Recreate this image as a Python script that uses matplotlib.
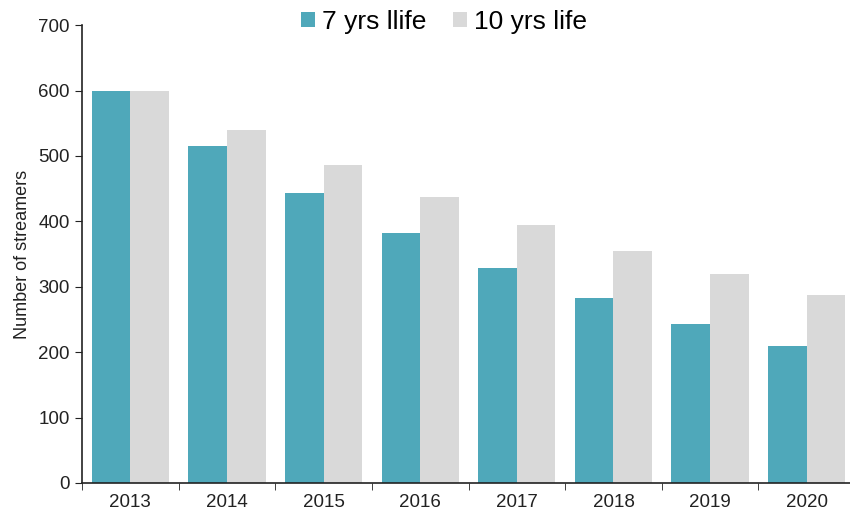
import matplotlib
matplotlib.use('Agg')
import matplotlib.pyplot as plt
import numpy as np

years = ['2013', '2014', '2015', '2016', '2017', '2018', '2019', '2020']
life7 = [600, 515, 443, 382, 329, 283, 243, 209]
life10 = [600, 540, 486, 437, 394, 355, 320, 287]
labels = ['7 yrs llife', '10 yrs life']
colors = ['#4fa8ba', '#d9d9d9']

plt.rcParams['font.family'] = ['Liberation Sans', 'DejaVu Sans']

fig = plt.figure(figsize=(8.5, 5.13), dpi=100)
# axes runs a bit past the right edge of the figure, like the original
ax = fig.add_axes([0.0965, 0.0585, 0.9094, 0.8925])

x = np.arange(len(years))
w = 0.4
ax.bar(x - w/2, life7, w, color=colors[0], label=labels[0])
ax.bar(x + w/2, life10, w, color=colors[1], label=labels[1])

ax.set_xlim(-0.5, len(years) - 0.5)
ax.set_ylim(0, 700)
ax.set_yticks(range(0, 701, 100))
ax.set_xticks(x)
ax.set_xticklabels(years)
ax.set_xticks(np.arange(-0.5, len(years)), minor=True)
ax.tick_params(axis='x', which='major', length=0, labelsize=13.5, colors='#222222', pad=8)
ax.tick_params(axis='x', which='minor', length=5, direction='out', color='#222222')
ax.tick_params(axis='y', length=5, direction='out', labelsize=13.5, colors='#222222', pad=4)
ax.set_ylabel('Number of streamers', fontsize=13, color='#222222', labelpad=5)

for s in ['top', 'right']:
    ax.spines[s].set_visible(False)
for s in ['left', 'bottom']:
    ax.spines[s].set_color('#222222')
    ax.spines[s].set_linewidth(1.2)

ax.legend(loc='upper center', bbox_to_anchor=(0.468, 1.085), ncol=2, frameon=False,
          fontsize=19, handlelength=0.53, handleheight=0.53, handletextpad=0.27,
          columnspacing=1.0)

fig.savefig('out.png', dpi=100)
